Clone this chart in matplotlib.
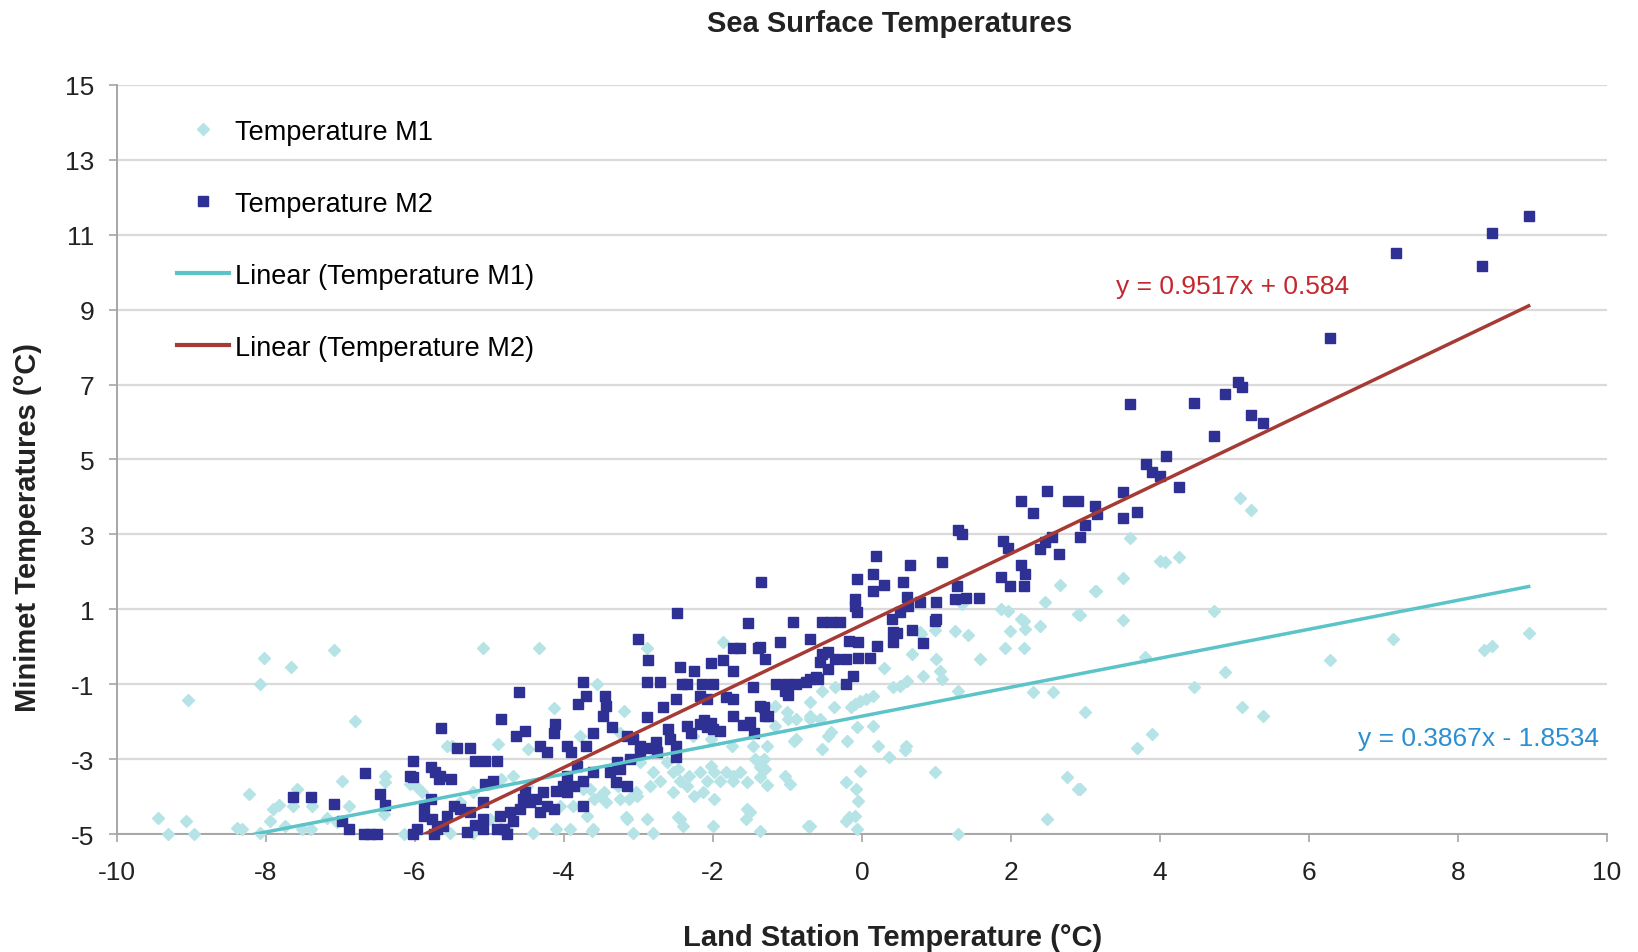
import numpy as np
import matplotlib
matplotlib.use("Agg")
import matplotlib.pyplot as plt
from matplotlib.lines import Line2D

plt.rcParams['font.family'] = ['Liberation Sans', 'DejaVu Sans']
plt.rcParams['axes.unicode_minus'] = False

# Temperature M1 (light diamonds): land station temp, minimet temp
m1 = [
    (-9.45, -4.58), (-9.32, -5.0), (-9.07, -4.66), (-8.97, -5.0), (-9.05, -1.42), (-8.23, -3.93),
    (-8.39, -4.85), (-8.32, -4.87), (-8.08, -4.96), (-8.08, -0.99), (-8.02, -0.31), (-7.66, -0.55),
    (-7.08, -0.1), (-6.8, -1.99), (-7.95, -4.64), (-7.9, -4.33), (-7.83, -4.23), (-7.74, -4.78),
    (-7.64, -4.26), (-7.58, -3.8), (-7.52, -4.87), (-7.4, -4.87), (-7.38, -4.26), (-6.98, -3.59),
    (-6.88, -4.24), (-7.18, -4.56), (-7.05, -4.69), (-6.4, -3.44), (-6.4, -3.62), (-6.42, -4.47),
    (-6.15, -5.0), (-6.06, -3.66), (-5.97, -3.75), (-5.91, -3.89), (-5.57, -2.64),
    (-5.08, -0.04), (-4.34, -0.04), (-4.14, -1.64), (-3.56, -0.99), (-3.2, -1.71), (-2.89, -0.02),
    (-1.86, 0.12), (-4.88, -2.6), (-5.5, -2.64), (-4.48, -2.73), (-3.78, -2.37), (-3.25, -2.29),
    (-2.98, -3.09), (-2.8, -3.35), (-2.71, -3.58), (-2.53, -3.35), (-2.44, -3.58), (-2.35, -3.71),
    (-2.53, -3.89), (-2.17, -3.35), (-2.08, -3.58), (-1.99, -3.35), (-1.9, -3.58), (-1.82, -3.35),
    (-1.73, -3.58), (-1.64, -3.35), (-1.37, -3.2), (-1.32, -3.0), (-1.37, -3.47), (-1.28, -3.7),
    (-2.26, -3.98), (-2.13, -3.89), (-1.99, -4.07), (-1.5, -4.42), (-1.55, -4.6), (-2.0, -4.78),
    (-1.37, -4.91), (-3.16, -4.6), (-2.89, -4.6), (-2.44, -4.6), (-3.61, -4.87), (-3.92, -4.87),
    (-4.1, -4.87), (-4.41, -4.96), (-3.07, -4.96), (-2.8, -4.96), (-3.65, -3.8), (-3.52, -3.98),
    (-3.43, -4.15), (-3.02, -3.98), (-3.25, -4.07), (-4.5, -3.71), (-4.68, -3.44), (-4.84, -3.53),
    (-5.22, -3.89), (-5.4, -4.15), (-5.53, -4.96), (-5.22, -4.96), (-4.99, -4.6), (-4.77, -4.87),
    (-4.05, -4.24), (-0.99, -1.93), (-0.89, -2.46), (-1.17, -1.57), (-1.27, -2.64), (-1.43, -3.0),
    (-1.54, -3.62), (-1.73, -3.44), (-2.03, -3.18), (-2.32, -3.44), (-2.47, -3.26),
    (-2.61, -3.09), (-2.84, -3.71), (-3.03, -3.89), (-3.12, -4.07), (-3.27, -3.71), (-3.46, -3.89),
    (-3.6, -4.07), (-3.74, -3.8), (-3.88, -4.24), (-3.69, -4.51), (-2.03, -2.46), (-1.75, -2.64),
    (-1.46, -2.64), (-2.27, -2.37), (-1.17, -2.11), (-0.7, -1.93), (-0.42, -2.28), (-0.7, -1.48),
    (-0.91, -2.51), (-0.54, -2.73), (-0.2, -2.51), (-0.46, -2.37), (0.21, -2.64), (0.59, -2.64),
    (0.37, -2.95), (-0.03, -3.31), (-0.22, -3.62), (-0.08, -3.8), (-0.05, -4.11), (-0.17, -4.55),
    (-0.09, -4.51), (-0.06, -4.87), (-0.7, -4.78), (-1.54, -4.33), (-2.47, -4.55), (-2.4, -4.78),
    (-3.17, -4.55), (-3.62, -4.91), (1.87, 1.0), (1.96, 0.96), (2.17, 0.7), (2.39, 0.56), (2.19, 0.47),
    (1.99, 0.43), (1.92, -0.02), (2.17, -0.02), (2.46, 1.19), (2.9, 0.87), (1.25, 0.43), (1.43, 0.31),
    (1.58, -0.33), (0.67, -0.19), (1.0, -0.33), (1.05, -0.64), (1.07, -0.86), (0.29, -0.58),
    (0.82, -0.77), (0.42, -1.08), (0.51, -1.04), (0.6, -0.91), (-0.09, -1.53), (-0.03, -1.44),
    (0.06, -1.4), (0.15, -1.31), (-0.14, -1.62), (-0.54, -1.17), (-0.36, -1.08), (-0.38, -1.62),
    (-0.88, -1.93), (-0.7, -1.84), (-0.56, -1.93), (-1.01, -1.75), (1.29, -1.17), (2.3, -1.22),
    (2.57, -1.22), (2.99, -1.75), (0.15, -2.11), (-0.07, -2.15), (0.58, -2.77), (-1.37, -3.09),
    (-1.3, -3.26), (-1.03, -3.44), (-0.97, -3.67), (0.98, -3.35), (2.75, -3.49), (2.9, -3.8),
    (2.48, -4.6), (-0.72, -4.78), (-0.21, -4.64), (1.29, -5.0), (1.34, 1.14), (2.14, 0.74),
    (2.66, 1.66), (0.78, 0.4), (0.98, 0.45), (3.14, 1.5), (0.79, 0.34), (3.6, 2.9), (5.07, 3.96),
    (5.22, 3.65), (3.5, 1.84), (3.13, 1.5), (4.0, 2.3), (4.07, 2.25), (4.26, 2.39), (2.93, 0.85),
    (3.5, 0.72), (4.72, 0.96), (3.8, -0.28), (4.87, -0.68), (6.28, -0.35), (7.13, 0.21),
    (4.46, -1.08), (5.1, -1.62), (5.39, -1.86), (3.69, -2.71), (3.89, -2.33), (2.93, -3.8),
    (8.95, 0.36), (8.46, 0.02), (8.35, -0.09),
]

# Temperature M2 (dark squares)
m2 = [
    (8.95, 11.49), (8.46, 11.04), (8.33, 10.17), (7.17, 10.5), (6.28, 8.25),
    (5.05, 7.06), (5.1, 6.93), (4.87, 6.75), (4.46, 6.51), (3.6, 6.48), (5.22, 6.2), (5.38, 5.97),
    (4.72, 5.62), (4.08, 5.08), (3.81, 4.88), (3.89, 4.66), (4.0, 4.57), (4.25, 4.26), (3.5, 4.14),
    (3.13, 3.77), (3.15, 3.54), (2.99, 3.25), (3.5, 3.45), (3.69, 3.59), (2.93, 2.92),
    (2.48, 4.15), (2.14, 3.9), (2.29, 3.57), (2.76, 3.9), (2.9, 3.9), (2.39, 2.61), (2.46, 2.79),
    (2.55, 2.92), (2.65, 2.48), (1.29, 3.13), (1.34, 3.01), (1.9, 2.83), (1.96, 2.63), (1.87, 1.85),
    (1.99, 1.63), (2.14, 2.17), (2.19, 1.94), (2.17, 1.63), (1.25, 1.27), (1.4, 1.29), (1.57, 1.29),
    (1.27, 1.63), (1.07, 2.27), (0.99, 1.2), (1.0, 0.74), (0.4, 0.74), (0.51, 0.92), (0.47, 0.38),
    (0.67, 0.45), (0.6, 1.32), (0.62, 1.1), (0.78, 1.19), (0.55, 1.72), (0.64, 2.19), (0.19, 2.41),
    (0.15, 1.94), (0.29, 1.65), (0.15, 1.5), (-0.09, 1.27), (-0.09, 1.1), (-0.07, 0.92), (-0.07, 1.81),
    (-1.35, 1.74), (0.98, 0.7), (0.42, 0.39), (-0.92, 0.65), (-0.54, 0.65), (-0.41, 0.65), (-0.3, 0.65),
    (-1.1, 0.12), (-0.7, 0.21), (-0.18, 0.16), (-0.05, 0.12), (0.2, 0.03), (0.42, 0.12), (0.82, 0.09),
    (-1.3, -0.33), (-1.37, 0.0), (-0.54, -0.19), (-0.45, -0.15), (-0.56, -0.42), (-0.45, -0.59),
    (-0.36, -0.33), (-0.21, -0.33), (-0.05, -0.31), (0.11, -0.31), (-0.7, -0.86), (-0.59, -0.86),
    (-0.12, -0.77), (-0.21, -0.99), (-1.15, -0.99), (-1.01, -0.99), (-0.88, -0.99), (-1.03, -1.17),
    (-0.99, -1.3), (-1.32, -1.62), (-1.26, -1.84), (-0.75, -0.95), (-0.61, -0.82),
    (-2.48, 0.9), (-1.53, 0.63), (-3.0, 0.21), (-2.87, -0.35), (-1.73, -0.02), (-1.64, -0.02),
    (-1.39, -0.02), (-1.86, -0.35), (-2.02, -0.43), (-2.44, -0.55), (-2.26, -0.64), (-1.73, -0.64),
    (-2.89, -0.95), (-2.71, -0.95), (-3.74, -0.95), (-2.42, -1.0), (-2.35, -1.0), (-2.15, -1.0),
    (-2.0, -1.0), (-1.46, -1.08), (-4.6, -1.22), (-3.71, -1.31), (-3.45, -1.31), (-3.81, -1.53),
    (-3.43, -1.59), (-2.67, -1.62), (-2.49, -1.4), (-2.17, -1.31), (-2.08, -1.4), (-1.82, -1.35),
    (-1.73, -1.4), (-1.37, -1.57), (-1.3, -1.84), (-3.47, -1.84), (-2.89, -1.88), (-4.12, -2.06),
    (-4.14, -2.29), (-4.85, -1.93), (-4.64, -2.37), (-4.52, -2.24), (-5.65, -2.18), (-3.61, -2.29),
    (-3.36, -2.15), (-2.35, -2.11), (-2.12, -1.95), (-2.03, -2.04), (-2.08, -2.15), (-2.18, -2.05),
    (-2.0, -2.2), (-1.5, -2.02), (-1.73, -1.84), (-4.32, -2.64), (-4.23, -2.82), (-3.96, -2.64),
    (-3.9, -2.82), (-3.7, -2.64), (-3.16, -2.37), (-3.07, -2.46), (-2.98, -2.64), (-2.89, -2.69),
    (-2.76, -2.55), (-2.58, -2.46), (-2.49, -2.64), (-2.49, -2.95), (-5.44, -2.69), (-5.26, -2.69),
    (-5.19, -3.04), (-5.06, -3.04), (-4.9, -3.04), (-5.66, -3.44), (-5.51, -3.53), (-5.06, -3.66),
    (-4.95, -3.58), (-3.83, -3.18), (-3.61, -3.35), (-3.38, -3.35), (-3.25, -3.27), (-3.29, -3.09),
    (-3.11, -3.0), (-2.98, -2.82), (-3.96, -3.44), (-4.01, -3.71), (-4.1, -3.84), (-3.74, -3.58),
    (-3.87, -3.71), (-3.96, -3.89), (-4.28, -3.89), (-4.37, -4.07), (-4.46, -4.15), (-4.55, -4.07),
    (-4.23, -4.24), (-4.32, -4.42), (-4.14, -4.33), (-4.59, -4.33), (-4.72, -4.42), (-4.68, -4.64),
    (-4.86, -4.51), (-4.81, -4.87), (-4.9, -4.87), (-4.77, -5.0), (-5.08, -4.15), (-5.08, -4.6),
    (-5.08, -4.87), (-5.26, -4.42), (-5.4, -4.33), (-5.48, -4.24), (-5.57, -4.51), (-5.62, -4.78),
    (-3.74, -4.24), (-3.16, -3.71), (-4.52, -3.89), (-2.3, -2.3), (-2.6, -2.2), (-1.9, -2.25),
    (-1.6, -2.1), (-1.45, -2.3), (-2.75, -2.8), (-3.3, -3.6), (-5.3, -4.95), (-5.2, -4.75),
    (-6.03, -3.04), (-6.06, -3.44), (-6.02, -3.49), (-5.79, -3.22), (-5.73, -3.35), (-5.68, -3.53),
    (-6.67, -3.37), (-7.64, -4.0), (-7.4, -4.0), (-7.08, -4.19), (-6.47, -3.93), (-6.4, -4.23),
    (-6.98, -4.64), (-6.89, -4.87), (-6.69, -5.0), (-6.6, -5.0), (-6.51, -5.0), (-6.03, -5.0),
    (-5.97, -4.87), (-5.88, -4.24), (-5.79, -4.07), (-5.88, -4.51), (-5.77, -4.6), (-5.7, -4.87),
    (-5.75, -5.0),
]

# trendline equations printed on the chart
fit_m1 = (0.3867, -1.8534)
fit_m2 = (0.9517, 0.584)

x_ticks = [-10, -8, -6, -4, -2, 0, 2, 4, 6, 8, 10]
y_ticks = [-5, -3, -1, 1, 3, 5, 7, 9, 11, 13, 15]

c_m1 = '#b5e3e6'
c_m2 = '#2e3094'
c_fit1 = '#5cc3c8'
c_fit2 = '#a63a35'

x1, y1 = np.array(m1).T
x2, y2 = np.array(m2).T

fig = plt.figure(figsize=(16.38, 9.53), dpi=100)
ax = fig.add_axes([0.0714, 0.1238, 0.9096, 0.786])

ax.plot(x1, y1, 'D', ms=5.8, color=c_m1, mec=c_m1, ls='none', clip_on=False, zorder=3)
ax.plot(x2, y2, 's', ms=6.6, color=c_m2, mec=c_m2, ls='none', clip_on=False, zorder=4)

# trendlines over each series' x range
xs1 = np.array([x1.min(), x1.max()])
xs2 = np.array([x2.min(), x2.max()])
ax.plot(xs1, fit_m1[0] * xs1 + fit_m1[1], color=c_fit1, lw=2.5, zorder=5)
ax.plot(xs2, fit_m2[0] * xs2 + fit_m2[1], color=c_fit2, lw=2.5, zorder=6)

ax.text(3.41, 9.62, 'y = 0.9517x + 0.584', color='#c3282e', fontsize=19, va='center', ha='left')
ax.text(9.9, -2.43, 'y = 0.3867x - 1.8534', color='#2b8fd1', fontsize=19, va='center', ha='right')

ax.set_xlim(-10, 10)
ax.set_ylim(-5, 15)
ax.set_xticks(x_ticks)
ax.set_yticks(y_ticks)
ax.tick_params(axis='both', direction='out', length=6, width=1.2, color='#a6a6a6',
               labelsize=19, labelcolor='#222222')
ax.tick_params(axis='y', pad=10)
ax.tick_params(axis='x', pad=13)
ax.yaxis.grid(True, color='#dadada', lw=1.6)
ax.set_axisbelow(True)
for s in ['top', 'right']:
    ax.spines[s].set_visible(False)
for s in ['left', 'bottom']:
    ax.spines[s].set_color('#a6a6a6')
    ax.spines[s].set_linewidth(1.4)

fig.text(0.543, 0.975, 'Sea Surface Temperatures', fontsize=21, fontweight='bold',
         ha='center', va='center', color='#222222')
fig.text(0.545, 0.016, 'Land Station Temperature (°C)', fontsize=21, fontweight='bold',
         ha='center', va='center', color='#222222')
fig.text(0.017, 0.446, 'Minimet Temperatures (°C)', fontsize=21, fontweight='bold',
         ha='center', va='center', rotation=90, color='#222222')

handles = [
    Line2D([], [], marker='D', ms=5.8, color=c_m1, ls='none'),
    Line2D([], [], marker='s', ms=6.6, color=c_m2, ls='none'),
    Line2D([], [], color=c_fit1, lw=3),
    Line2D([], [], color=c_fit2, lw=3),
]
labels = ['Temperature M1', 'Temperature M2', 'Linear (Temperature M1)', 'Linear (Temperature M2)']
ax.legend(handles, labels, loc='upper left', bbox_to_anchor=(0.04, 0.955), frameon=False,
          fontsize=19.5, handlelength=1.95, handletextpad=0.22, labelspacing=1.7,
          borderpad=0, borderaxespad=0)

fig.savefig('out.png', dpi=100)
